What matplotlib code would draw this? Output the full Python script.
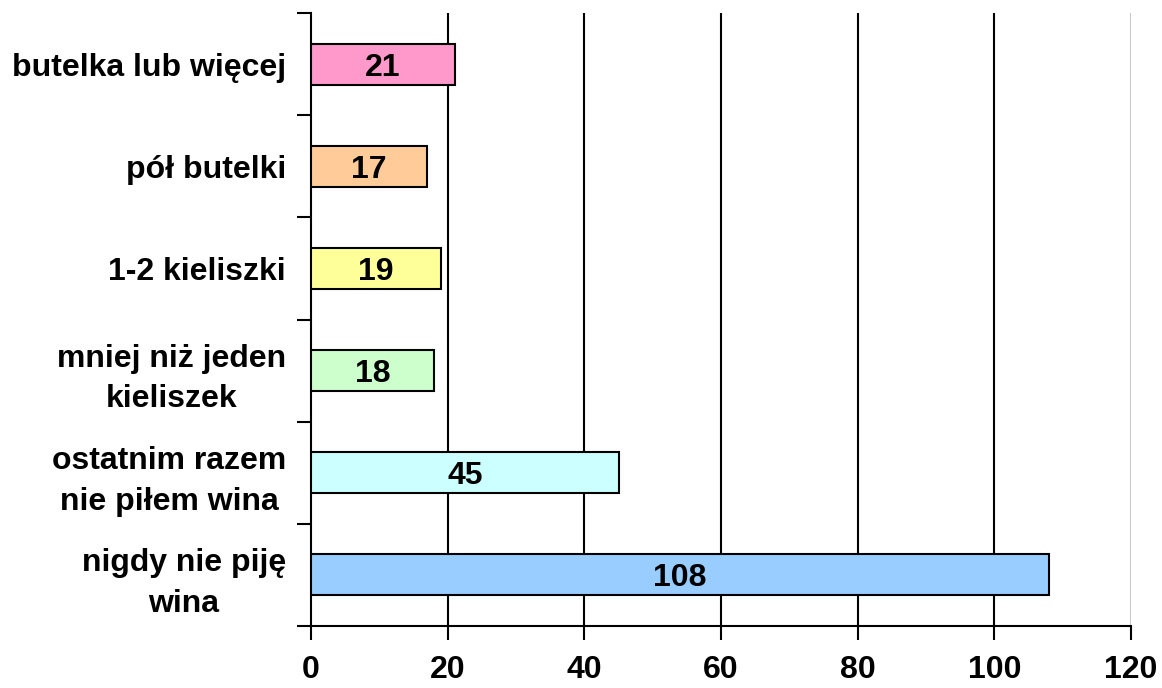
import matplotlib
matplotlib.use("Agg")
import matplotlib.pyplot as plt
import numpy as np

categories = ["nigdy nie piję\nwina", "ostatnim razem\nnie piłem wina", "mniej niż jeden\nkieliszek",
              "1-2 kieliszki", "pół butelki", "butelka lub więcej"]
values = [108, 45, 18, 19, 17, 21]
colors = ["#99CCFF", "#CCFFFF", "#CCFFCC", "#FFFF99", "#FFCC99", "#FF99CC"]
xticks = [0, 20, 40, 60, 80, 100, 120]

plt.rcParams['font.family'] = ['Liberation Sans', 'DejaVu Sans']
FS = 23
fig = plt.figure(figsize=(11.62, 6.88), dpi=100)
ax = fig.add_axes([311/1162, 1-626/688, (1131-311)/1162, (626-13)/688])

y = np.arange(len(categories))
ax.barh(y, values, height=0.4, color=colors, edgecolor='black', linewidth=1.5, zorder=3)
for yi, v in zip(y, values):
    ax.text(v/2, yi, str(v), ha='center', va='center_baseline', fontsize=FS, fontweight='bold', zorder=4)

ax.set_xlim(0, 120)
ax.set_ylim(-0.5, len(categories)-0.5)
ax.set_xticks(xticks)
ax.set_xticklabels([str(t) for t in xticks], fontsize=FS, fontweight='bold')
for t in xticks[1:-1]:
    ax.axvline(t, color='black', linewidth=1.5, zorder=1)
ax.axvline(120, color='#C8C8C8', linewidth=1.5, zorder=1)

ax.set_yticks(np.arange(-0.5, len(categories), 1.0))
ax.set_yticklabels([])
ax.set_yticks(y, minor=True)
ax.set_yticklabels(categories, minor=True, fontsize=FS, fontweight='bold',
                   multialignment='center', linespacing=1.45)
ax.tick_params(axis='y', which='major', length=10, width=1.5, direction='out')
ax.tick_params(axis='y', which='minor', length=0, pad=18)
ax.tick_params(axis='x', which='major', length=10, width=1.5, direction='out', pad=11)

for s in ['top', 'right']:
    ax.spines[s].set_visible(False)
for s in ['left', 'bottom']:
    ax.spines[s].set_linewidth(1.5)

fig.savefig("out.png", dpi=100)
